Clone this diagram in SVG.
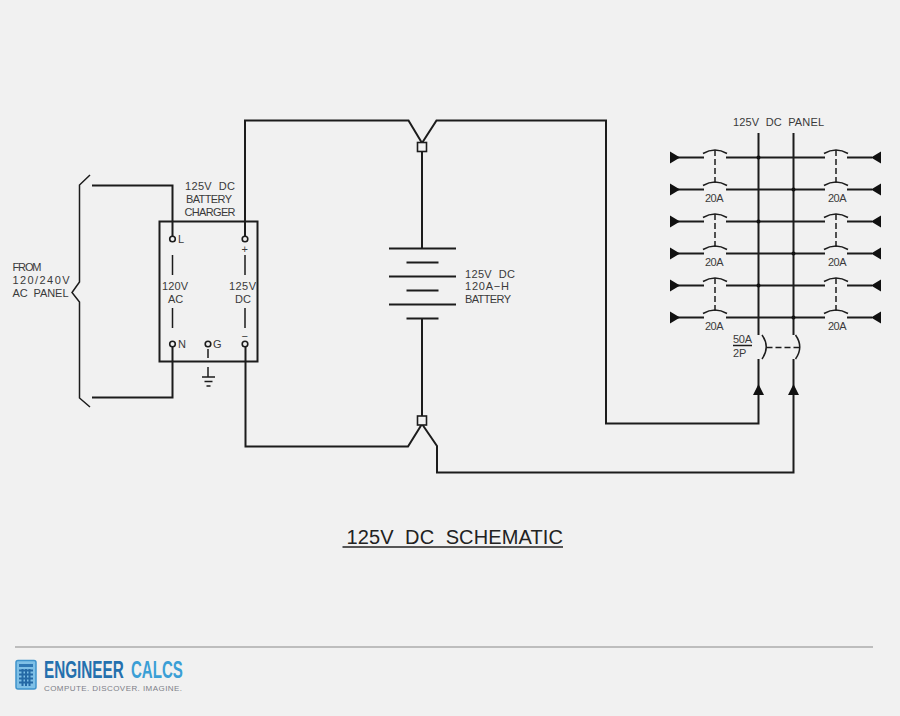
<svg xmlns="http://www.w3.org/2000/svg" width="900" height="716" viewBox="0 0 900 716">
<style>
.w{fill:none;stroke:#1c1c1c;stroke-width:2}
.t{fill:none;stroke:#1c1c1c;stroke-width:1.5}
.d{fill:none;stroke:#1c1c1c;stroke-width:1.5;stroke-dasharray:6 3}
.a{fill:#111}
.l{font-family:"Liberation Sans",Arial,sans-serif;font-size:11px;fill:#3a3a3a;white-space:pre}
.n{fill:#f1f1f1;stroke:#1c1c1c;stroke-width:1.6}
.b{font-family:"Liberation Sans",Arial,sans-serif;font-size:23.500px;font-weight:bold}
</style>
<defs>
<g id="bl"><path class="t" d="M-12 1.500Q0-5.500 12 1.500M-12 33.500Q0 26.500 12 33.500"/><path class="d" d="M0-2V31"/></g>
</defs>
<rect width="900" height="716" fill="#f1f1f1"/>
<g id="connectors">
<path class="w" d="M92 185.500H172.500V238M92 397.500H172.500V345"/>
<path class="w" d="M245 238V120.500H408.500L422 143M422 143L436.500 120.500H606V423.500H758.500V390"/>
<path class="w" d="M245.500 345V446.500H408L422 424M422 424L437 446V472.500H793.500V390"/>
<path class="w" d="M422 150V248M422 319V416"/>
<path class="w" d="M758.500 133V335M793.500 133V335M758.500 359V390M793.500 359V390"/>
<path class="t" d="M90 175L79.500 185V282L72 292.500L79.500 302V398L90 407"/>
<path class="t" d="M172.500 255V275M172.500 308V328M245 255V275M245 308V328"/>
<path class="t" d="M208 349V358M208 367V377M202 377H215M204.500 381.500H212.500M206.500 386H210.500"/>
</g>
<g id="charger">
<rect class="w" x="159.500" y="221.500" width="98" height="140"/>
<circle class="n" cx="172.500" cy="239" r="2.800"/><circle class="n" cx="245" cy="239" r="2.800"/>
<circle class="n" cx="172.500" cy="344" r="2.800"/><circle class="n" cx="208" cy="344" r="2.800"/><circle class="n" cx="245" cy="344" r="2.800"/>
<text class="l" x="185" y="190" textLength="50">125V  DC</text><text class="l" x="186" y="203" textLength="46">BATTERY</text><text class="l" x="184.500" y="216" textLength="51">CHARGER</text>
<text class="l" x="178" y="243">L</text><text class="l" x="178" y="348">N</text><text class="l" x="213" y="348">G</text>
<text class="l" x="241.500" y="253">+</text><text class="l" x="241.500" y="340">−</text>
<text class="l" x="162" y="289.500" textLength="26">120V</text><text class="l" x="168" y="302.500">AC</text>
<text class="l" x="229" y="289.500" textLength="27">125V</text><text class="l" x="235" y="302.500">DC</text>
</g>
<g id="from-panel"><text class="l" x="12.500" y="271" textLength="29">FROM</text><text class="l" x="12.500" y="284" textLength="57">120/240V</text><text class="l" x="12.500" y="297" textLength="56">AC  PANEL</text></g>
<g id="battery">
<rect class="n" x="417.500" y="142.500" width="9" height="9"/><rect class="n" x="417.500" y="416" width="9" height="9"/>
<path class="w" d="M389 248.500H456M406.500 262.500H438.500M389 276.500H456M406.500 290.500H438.500M389 304.500H456M406.500 318.500H438.500"/>
<text class="l" x="465" y="277.500" textLength="50">125V  DC</text><text class="l" x="465" y="290" textLength="44">120A−H</text><text class="l" x="465" y="303" textLength="46">BATTERY</text>
</g>
<g id="dc-panel">
<text class="l" x="733" y="125.500" textLength="91">125V  DC  PANEL</text>
<path class="w" d="M676 157.500H704M726 157.500H825M847 157.500H872M676 189.500H704M726 189.500H825M847 189.500H872M676 221.500H704M726 221.500H825M847 221.500H872M676 253.500H704M726 253.500H825M847 253.500H872M676 285.500H704M726 285.500H825M847 285.500H872M676 317.500H704M726 317.500H825M847 317.500H872"/>
<use href="#bl" x="715" y="152"/><use href="#bl" x="836" y="152"/><use href="#bl" x="715" y="216"/><use href="#bl" x="836" y="216"/><use href="#bl" x="715" y="280"/><use href="#bl" x="836" y="280"/>
<path class="a" d="M670 151.500L680 157.500L670 163.500ZM670 183.500L680 189.500L670 195.500ZM670 215.500L680 221.500L670 227.500ZM670 247.500L680 253.500L670 259.500ZM670 279.500L680 285.500L670 291.500ZM670 311.500L680 317.500L670 323.500ZM881 151.500L871 157.500L881 163.500ZM881 183.500L871 189.500L881 195.500ZM881 215.500L871 221.500L881 227.500ZM881 247.500L871 253.500L881 259.500ZM881 279.500L871 285.500L881 291.500ZM881 311.500L871 317.500L881 323.500Z"/>
<path class="a" d="M753 395L758.500 384L764 395ZM788 395L793.500 384L799 395Z"/>
<path class="a" d="M758.500 155.500a2 2 0 1 0 .01 0M793.500 187.500a2 2 0 1 0 .01 0M758.500 219.500a2 2 0 1 0 .01 0M793.500 251.500a2 2 0 1 0 .01 0M758.500 283.500a2 2 0 1 0 .01 0M793.500 315.500a2 2 0 1 0 .01 0"/>
<text class="l" x="705" y="202" textLength="18.500">20A</text><text class="l" x="828" y="202" textLength="18.500">20A</text><text class="l" x="705" y="266" textLength="18.500">20A</text><text class="l" x="828" y="266" textLength="18.500">20A</text><text class="l" x="705" y="330" textLength="18.500">20A</text><text class="l" x="828" y="330" textLength="18.500">20A</text>
<text class="l" x="733" y="343" textLength="19">50A</text><path class="t" d="M733 345.500H752"/><text class="l" x="733" y="356.500">2P</text>
<path class="t" d="M762 335Q770.500 347 762 359M795.500 335Q804 347 795.500 359"/><path class="d" d="M766.500 347.500H800"/>
</g>
<g id="title"><text x="346.500" y="544" textLength="216.500" style="font-family:'Liberation Sans',Arial,sans-serif;font-size:20px;white-space:pre" fill="#222">125V  DC  SCHEMATIC</text><path d="M342.500 547H563" stroke="#222" stroke-width="1.500"/></g>
<g id="footer">
<path d="M15 647H873" stroke="#bdbdbd" stroke-width="2"/>
<rect x="16" y="660.500" width="20" height="28.500" rx="2" fill="#7fc0e6" stroke="#3f93cb" stroke-width="1.500"/><rect x="19" y="664" width="14" height="3" fill="#2f78b4"/><path d="M19 670.500H33M19 674.500H33M19 678.500H33M19 682.500H33M22.500 669V686M26 669V686M29.500 669V686" stroke="#2569a5" stroke-width="2"/>
<text class="b" transform="translate(44 678) scale(.65 1)" fill="#2470ae">ENGINEER</text>
<text class="b" transform="translate(131 678) scale(.64 1)" fill="#3b9fd6">CALCS</text>
<text x="44" y="690.500" style="font-family:'Liberation Sans',Arial,sans-serif;font-size:8px" textLength="138" fill="#7d7f88">COMPUTE. DISCOVER. IMAGINE.</text>
</g>
</svg>
